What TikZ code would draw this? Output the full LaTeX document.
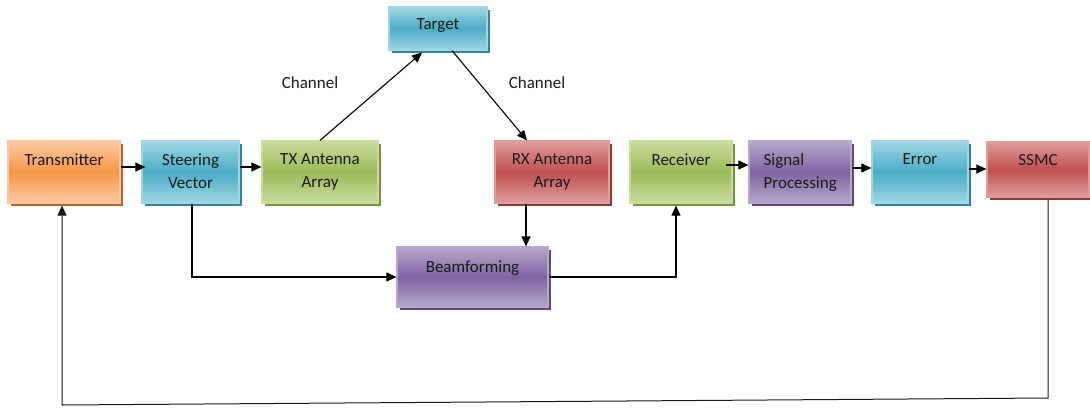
\documentclass[tikz,border=0pt]{standalone}
\usepackage{fontspec}
\setmainfont{Carlito}
\usetikzlibrary{arrows.meta,shadows,calc}
\definecolor{orM}{HTML}{F79646}\definecolor{orL}{HTML}{FBC8A4}\definecolor{orD}{HTML}{C0632A}
\definecolor{blM}{HTML}{4BACC6}\definecolor{blL}{HTML}{9FD5E5}\definecolor{blD}{HTML}{31849B}
\definecolor{grM}{HTML}{9BBB59}\definecolor{grL}{HTML}{C8DCA0}\definecolor{grD}{HTML}{76923C}
\definecolor{rdM}{HTML}{C0504D}\definecolor{rdL}{HTML}{DE9D9B}\definecolor{rdD}{HTML}{943634}
\definecolor{puM}{HTML}{8064A2}\definecolor{puL}{HTML}{B6A7CC}\definecolor{puD}{HTML}{5F497A}
\definecolor{txt}{HTML}{1A1A1A}
\tikzset{
  blk/.style={rectangle, inner sep=0pt, line width=1.2pt, draw=#1L,
    top color=#1L, bottom color=#1L, middle color=#1M,
    drop shadow={shadow xshift=2.5pt, shadow yshift=-3pt, fill=#1D, opacity=1}},
  lbl/.style={font=\fontsize{17}{23}\selectfont, text=txt, align=center, inner sep=0pt, anchor=north},
  arr/.style={line width=1.1pt, draw=black, -{Triangle[length=10pt,width=9pt]}},
  fb/.style={line width=1pt, draw=black!90, -{Triangle[length=10pt,width=9pt]}}
}
\begin{document}
\begin{tikzpicture}[x=1pt,y=-1pt]
\useasboundingbox (0,0) rectangle (1090,408);
% boxes
\node[blk=or, minimum width=112pt, minimum height=62pt] (tr) at (64,172) {};
\node[blk=bl, minimum width=97pt, minimum height=62pt] (st) at (190.5,172) {};
\node[blk=gr, minimum width=116pt, minimum height=62pt] (tx) at (320,172) {};
\node[blk=bl, minimum width=98pt, minimum height=43pt] (tg) at (438,28.5) {};
\node[blk=rd, minimum width=114pt, minimum height=62pt] (rx) at (552,172) {};
\node[blk=gr, minimum width=102pt, minimum height=62pt] (rc) at (681,172) {};
\node[blk=pu, minimum width=102pt, minimum height=62pt] (sp) at (800,172) {};
\node[blk=bl, minimum width=96pt, minimum height=62pt] (er) at (920,172) {};
\node[blk=rd, minimum width=102pt, minimum height=55pt] (ss) at (1038,169.5) {};
\node[blk=pu, minimum width=151pt, minimum height=60pt] (bf) at (472.5,277) {};
% labels
\node[lbl] (trt) at ([yshift=-13pt]tr.north) {Transmitter};
\node[lbl] (stt) at ([yshift=-13pt]st.north) {Steering\\Vector};
\node[lbl] (txt) at ([yshift=-13pt]tx.north) {TX Antenna\\Array};
\node[lbl] (tgt) at ([yshift=-12pt]tg.north) {Target};
\node[lbl] (rxt) at ([yshift=-13pt]rx.north) {RX Antenna\\Array};
\node[lbl] (rct) at ([yshift=-13pt]rc.north) {Receiver};
\node[lbl, align=left, anchor=north west] (spt) at ([xshift=15pt,yshift=-13pt]sp.north west) {Signal\\Processing};
\node[lbl] (ert) at ([yshift=-13pt]er.north) {Error};
\node[lbl] (sst) at ([yshift=-13pt]ss.north) {SSMC};
\node[lbl] (bft) at ([yshift=-14pt]bf.north) {Beamforming};
\node[lbl, anchor=center] (ch1) at (310,83) {Channel};
\node[lbl, anchor=center] (ch2) at (537,83) {Channel};
% connectors
\draw[arr] ([yshift=5pt]tr.east) -- ([yshift=5pt,xshift=4pt]st.west);
\draw[arr] ([yshift=5pt]st.east) -- ([yshift=5pt]tx.west);
\draw[arr] (tx.north) -- ([xshift=-16pt,yshift=-2pt]tg.south);
\draw[arr] ([xshift=14pt]tg.south) -- ([xshift=-25pt]rx.north);
\draw[arr] ([yshift=7pt,xshift=-7pt]rc.east) -- ([yshift=7pt]sp.west);
\draw[arr] ([yshift=4pt]sp.east) -- ([yshift=4pt]er.west);
\draw[arr] ([yshift=3pt]er.east) -- ([yshift=0.5pt]ss.west);
\coordinate (stb) at ([xshift=1.5pt]st.south);
\draw[arr] (stb) |- (bf.west);
\coordinate (rxb) at ([xshift=-26pt]rx.south);
\draw[arr] (rxb) -- (rxb |- bf.north);
\coordinate (rcb) at ([xshift=-5pt,yshift=-2pt]rc.south);
\draw[arr] (bf.east) -| (rcb);
\coordinate (ssb) at ([xshift=10pt,yshift=-2pt]ss.south);
\coordinate (c1) at (1048,398);
\coordinate (c2) at (62,405);
\coordinate (trb) at ([xshift=-2pt,yshift=-2pt]tr.south);
\draw[fb] (ssb) -- (c1) -- (c2) -- (trb);
\end{tikzpicture}
\end{document}
